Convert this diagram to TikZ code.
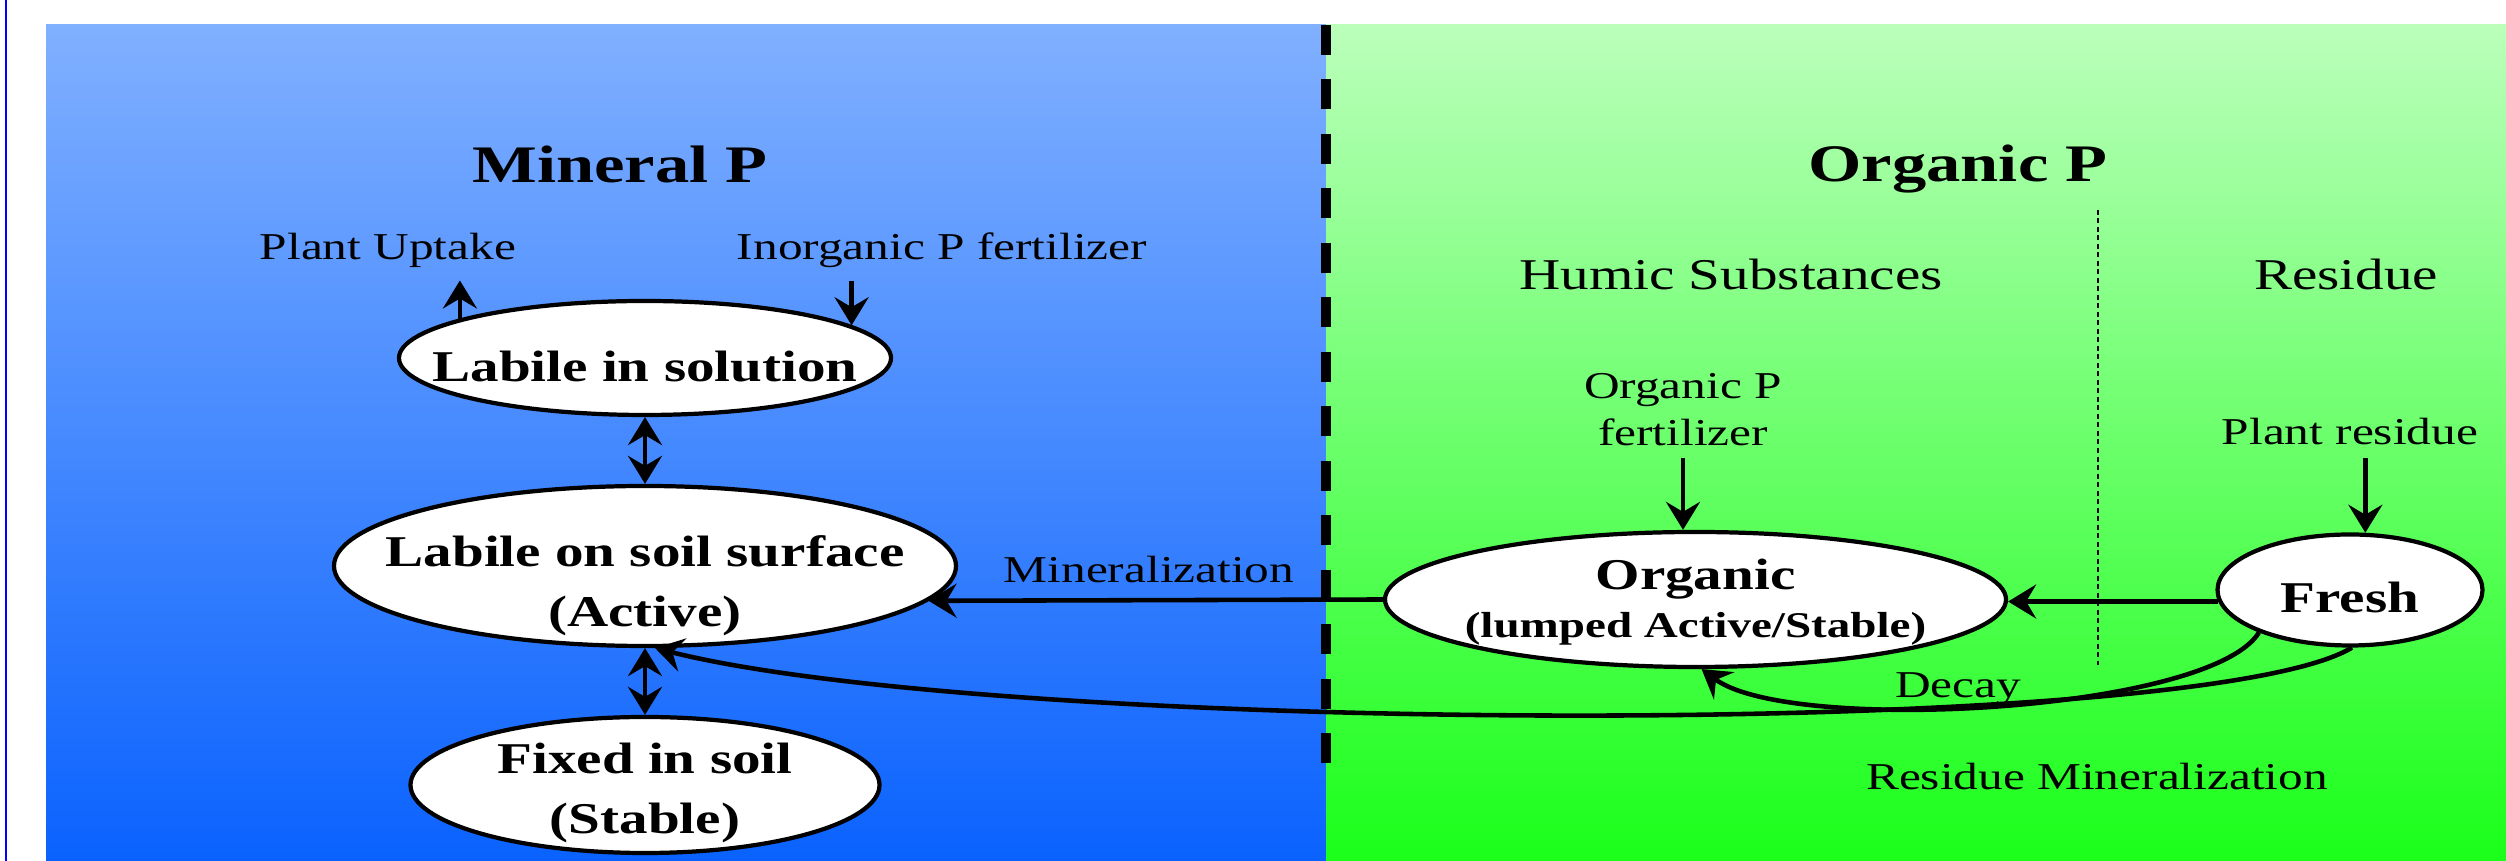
\documentclass[tikz,border=0pt]{standalone}
\usepackage{fontspec}
\setmainfont{Liberation Serif}[FakeStretch=1.3]
\usepackage{tikz}
\usetikzlibrary{shapes.geometric,arrows.meta,positioning}

\definecolor{bluetop}{RGB}{128,176,255}
\definecolor{bluebot}{RGB}{10,98,254}
\definecolor{greentop}{RGB}{187,255,187}
\definecolor{greenbot}{RGB}{26,255,26}

\newcommand{\pooltext}[2][0pt]{\smash{\raisebox{#1}{\makebox[0pt]{\begin{tabular}[t]{@{}c@{}}#2\end{tabular}}}}}

\tikzset{
  pool/.style={ellipse, draw, fill=white, line width=1.2pt, inner sep=0pt, font=\fontsize{12.5}{17}\selectfont\bfseries},
  lbl/.style={font=\fontsize{10.8}{13.4}\selectfont},
  hdr/.style={font=\fontsize{12.5}{15}\selectfont},
  ttl/.style={font=\fontsize{15}{18}\selectfont\bfseries},
  flow/.style={-{Stealth[length=0.28cm,width=0.34cm,inset=0.1cm]}, line width=1.3pt},
  exch/.style={{Stealth[length=0.28cm,width=0.34cm,inset=0.1cm]}-{Stealth[length=0.28cm,width=0.34cm,inset=0.1cm]}, line width=1.3pt},
}

\begin{document}
\begin{tikzpicture}
    % background panels
    \useasboundingbox (0,0) rectangle (25.06,8.61);
    \fill[white] (0,0) rectangle (25.06,8.61);
    \draw[blue, line width=0.6pt] (0.06,0) -- (0.06,8.61);
    \shade[top color=bluetop, bottom color=bluebot] (0.46,0) rectangle (13.26,8.36);
    \shade[top color=greentop, bottom color=greenbot] (13.26,0) rectangle (25.06,8.36);
    \draw[line width=0.1cm, dash pattern=on 0.3cm off 0.245cm] (13.26,8.36) -- (13.26,0.76);
    \draw[line width=0.7pt, dash pattern=on 0.05cm off 0.035cm] (20.98,6.51) -- (20.98,1.96);

    % Define headings
    \node[ttl, anchor=base]		(minp)		at (6.20,6.78)	{Mineral P};
    \node[ttl, anchor=base]		(orgp)		at (19.58,6.79)	{Organic P};
    \node[hdr, anchor=base]		(humic)		at (17.31,5.71)	{Humic Substances};
    \node[hdr, anchor=base]		(resid)		at (23.46,5.71)	{Residue};

    % Define pools
    \node[pool, minimum width=4.92cm, minimum height=1.14cm]	(lsol)	at (6.45,5.03)	{\pooltext[-0.24cm]{Labile in solution}};
    \node[pool, minimum width=6.22cm, minimum height=1.60cm]	(lsurf)	at (6.45,2.95)	{\pooltext[-0.01cm]{Labile on soil surface\\(Active)}};
    \node[pool, minimum width=4.69cm, minimum height=1.36cm]	(fixed)	at (6.45,0.76)	{\pooltext[0.11cm]{Fixed in soil\\(Stable)}};
    \node[pool, minimum width=6.21cm, minimum height=1.35cm]	(org)	at (16.955,2.615)	{\pooltext[0.10cm]{Organic\\[-3.3pt]{\fontsize{10.3}{13}\selectfont(lumped Active/Stable)}}};
    \node[pool, minimum width=2.65cm, minimum height=1.11cm]	(fresh)	at (23.50,2.71)	{\pooltext[-0.23cm]{Fresh}};

    % Define flow labels
    \node[lbl, anchor=base]		(uptake)	at (3.88,6.01)	{Plant Uptake};
    \node[lbl, anchor=base]		(inorg)		at (9.42,6.01)	{Inorganic P fertilizer};
    \node[lbl, anchor=south, align=center]	(orgfert)	at (16.83,4.03)	{Organic P\\fertilizer};
    \node[lbl, anchor=base]		(pres)		at (23.50,4.16)	{Plant residue};
    \node[lbl, anchor=base]		(minz)		at (11.49,2.78)	{Mineralization};
    \node[lbl, anchor=base]		(decay)		at (19.58,1.63)	{Decay};
    \node[lbl, anchor=base]		(resmin)	at (20.97,0.71)	{Residue Mineralization};

    % Connect nodes
    \draw[flow] (lsol.168) -- (lsol.168 |- uptake.south);
    \draw[flow] (inorg.south -| lsol.9) -- (lsol.9);
    \draw[exch] (lsol.south) -- (lsurf.north);
    \draw[exch] (lsurf.south) -- (fixed.north);
    \draw[flow] (orgfert.south) -- (orgfert.south |- org.north);
    \draw[flow] (pres.south -| fresh.75) -- (fresh.75);
    \draw[flow] (fresh.185) -- (fresh.185 -| org.east);
    \draw[flow] (org.west) -- (lsurf.-7);
    \draw[flow] (fresh.205) .. controls (22.10,1.49) and (17.90,1.26) .. (org.-85);
    \draw[flow] (fresh.-88) .. controls (22.00,1.21) and (10.00,1.26) .. (lsurf.-83);
\end{tikzpicture}
\end{document}
